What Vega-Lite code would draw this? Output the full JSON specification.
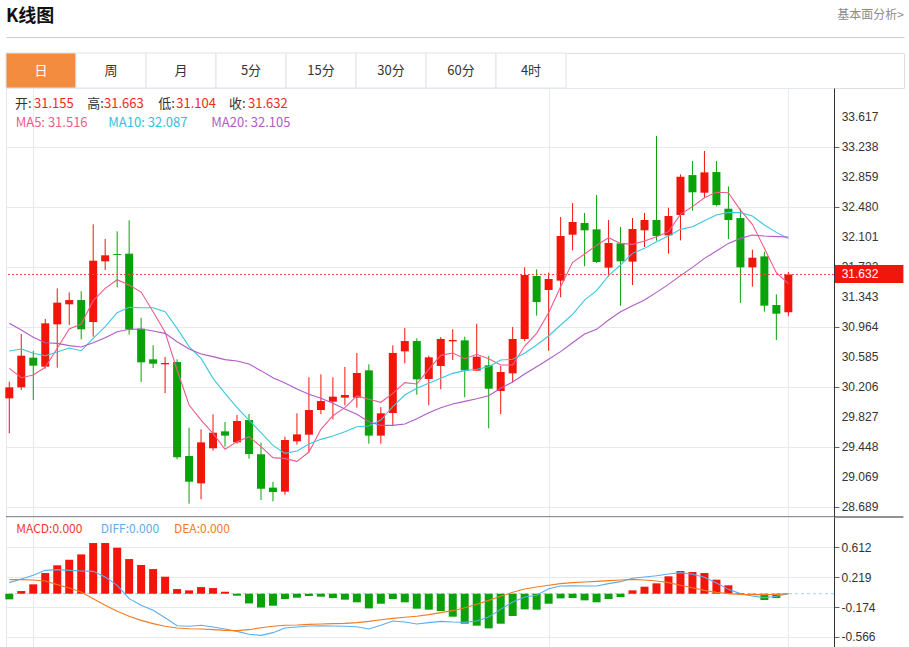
{
"$schema": "https://vega.github.io/schema/vega-lite/v6.json",
"padding": {"left": 4, "top": 0, "right": 2, "bottom": 0},
"autosize": {"type": "pad"},
"config": {"view": {"stroke": null}, "font": "Liberation Sans", "axis": {"labelFont": "Liberation Sans"}},
"datasets": {
"k": [
{"i":0,"o":30.067,"h":30.278,"l":29.625,"c":30.206,"m5":30.446,"m10":30.665,"m20":31.015,"macd":-0.074,"diff":0.145,"dea":0.184},
{"i":1,"o":30.206,"h":30.880,"l":30.172,"c":30.606,"m5":30.328,"m10":30.690,"m20":30.930,"macd":0.035,"diff":0.193,"dea":0.184},
{"i":2,"o":30.581,"h":30.665,"l":30.046,"c":30.480,"m5":30.362,"m10":30.636,"m20":30.838,"macd":0.123,"diff":0.241,"dea":0.180},
{"i":3,"o":30.467,"h":31.069,"l":30.442,"c":31.015,"m5":30.459,"m10":30.606,"m20":30.770,"macd":0.271,"diff":0.306,"dea":0.167},
{"i":4,"o":31.002,"h":31.457,"l":30.455,"c":31.276,"m5":30.699,"m10":30.652,"m20":30.762,"macd":0.372,"diff":0.315,"dea":0.119},
{"i":5,"o":31.255,"h":31.406,"l":30.994,"c":31.309,"m5":30.943,"m10":30.703,"m20":30.733,"macd":0.445,"diff":0.306,"dea":0.075},
{"i":6,"o":31.309,"h":31.419,"l":30.812,"c":30.939,"m5":31.006,"m10":30.669,"m20":30.716,"macd":0.515,"diff":0.298,"dea":0.022},
{"i":7,"o":31.031,"h":32.265,"l":30.846,"c":31.806,"m5":31.301,"m10":30.825,"m20":30.770,"macd":0.664,"diff":0.293,"dea":-0.065},
{"i":8,"o":31.798,"h":32.080,"l":31.688,"c":31.874,"m5":31.457,"m10":30.972,"m20":30.834,"macd":0.664,"diff":0.219,"dea":-0.152},
{"i":9,"o":31.890,"h":32.177,"l":31.469,"c":31.878,"m5":31.566,"m10":31.149,"m20":30.909,"macd":0.603,"diff":0.110,"dea":-0.231},
{"i":10,"o":31.895,"h":32.316,"l":30.871,"c":30.939,"m5":31.499,"m10":31.217,"m20":30.939,"macd":0.454,"diff":-0.065,"dea":-0.296},
{"i":11,"o":30.947,"h":31.086,"l":30.274,"c":30.522,"m5":31.410,"m10":31.212,"m20":30.943,"macd":0.376,"diff":-0.152,"dea":-0.349},
{"i":12,"o":30.560,"h":30.737,"l":30.450,"c":30.505,"m5":31.162,"m10":31.212,"m20":30.918,"macd":0.323,"diff":-0.218,"dea":-0.392},
{"i":13,"o":30.497,"h":30.589,"l":30.134,"c":30.514,"m5":30.901,"m10":31.162,"m20":30.888,"macd":0.223,"diff":-0.314,"dea":-0.427},
{"i":14,"o":30.526,"h":30.560,"l":29.297,"c":29.322,"m5":30.425,"m10":30.951,"m20":30.783,"macd":0.061,"diff":-0.419,"dea":-0.449},
{"i":15,"o":29.339,"h":29.697,"l":28.737,"c":29.014,"m5":29.983,"m10":30.720,"m20":30.690,"macd":0.044,"diff":-0.427,"dea":-0.458},
{"i":16,"o":28.993,"h":29.676,"l":28.791,"c":29.511,"m5":29.793,"m10":30.572,"m20":30.627,"macd":0.087,"diff":-0.414,"dea":-0.462},
{"i":17,"o":29.436,"h":29.865,"l":29.406,"c":29.633,"m5":29.625,"m10":30.320,"m20":30.594,"macd":0.074,"diff":-0.436,"dea":-0.471},
{"i":18,"o":29.650,"h":29.768,"l":29.457,"c":29.596,"m5":29.423,"m10":30.130,"m20":30.556,"macd":0.026,"diff":-0.462,"dea":-0.480},
{"i":19,"o":29.511,"h":29.857,"l":29.494,"c":29.781,"m5":29.520,"m10":29.949,"m20":30.539,"macd":-0.026,"diff":-0.493,"dea":-0.484},
{"i":20,"o":29.793,"h":29.869,"l":29.305,"c":29.364,"m5":29.583,"m10":29.793,"m20":30.501,"macd":-0.127,"diff":-0.532,"dea":-0.471},
{"i":21,"o":29.360,"h":29.507,"l":28.783,"c":28.926,"m5":29.457,"m10":29.633,"m20":30.417,"macd":-0.179,"diff":-0.545,"dea":-0.445},
{"i":22,"o":28.939,"h":29.014,"l":28.766,"c":28.884,"m5":29.318,"m10":29.473,"m20":30.328,"macd":-0.157,"diff":-0.510,"dea":-0.427},
{"i":23,"o":28.888,"h":29.583,"l":28.850,"c":29.541,"m5":29.305,"m10":29.372,"m20":30.261,"macd":-0.070,"diff":-0.449,"dea":-0.414},
{"i":24,"o":29.524,"h":29.878,"l":29.482,"c":29.612,"m5":29.271,"m10":29.402,"m20":30.185,"macd":-0.052,"diff":-0.436,"dea":-0.410},
{"i":25,"o":29.608,"h":30.332,"l":29.389,"c":29.920,"m5":29.389,"m10":29.490,"m20":30.118,"macd":-0.030,"diff":-0.423,"dea":-0.401},
{"i":26,"o":29.920,"h":30.370,"l":29.865,"c":30.033,"m5":29.676,"m10":29.549,"m20":30.067,"macd":-0.039,"diff":-0.419,"dea":-0.397},
{"i":27,"o":30.025,"h":30.332,"l":29.802,"c":30.088,"m5":29.848,"m10":29.591,"m20":30.004,"macd":-0.057,"diff":-0.423,"dea":-0.392},
{"i":28,"o":30.076,"h":30.463,"l":29.979,"c":30.109,"m5":29.949,"m10":29.646,"m20":29.932,"macd":-0.078,"diff":-0.427,"dea":-0.388},
{"i":29,"o":30.076,"h":30.640,"l":29.949,"c":30.387,"m5":30.097,"m10":29.709,"m20":29.865,"macd":-0.113,"diff":-0.432,"dea":-0.379},
{"i":30,"o":30.421,"h":30.497,"l":29.494,"c":29.596,"m5":30.055,"m10":29.718,"m20":29.772,"macd":-0.192,"diff":-0.462,"dea":-0.362},
{"i":31,"o":29.596,"h":29.958,"l":29.494,"c":29.878,"m5":30.017,"m10":29.793,"m20":29.726,"macd":-0.131,"diff":-0.414,"dea":-0.340},
{"i":32,"o":29.882,"h":30.737,"l":29.722,"c":30.640,"m5":30.130,"m10":29.962,"m20":29.726,"macd":-0.070,"diff":-0.357,"dea":-0.323},
{"i":33,"o":30.661,"h":30.956,"l":30.509,"c":30.791,"m5":30.265,"m10":30.109,"m20":29.743,"macd":-0.113,"diff":-0.371,"dea":-0.309},
{"i":34,"o":30.791,"h":30.825,"l":30.113,"c":30.307,"m5":30.248,"m10":30.194,"m20":29.810,"macd":-0.196,"diff":-0.397,"dea":-0.296},
{"i":35,"o":30.311,"h":30.606,"l":29.979,"c":30.585,"m5":30.434,"m10":30.257,"m20":29.886,"macd":-0.209,"diff":-0.379,"dea":-0.274},
{"i":36,"o":30.476,"h":30.842,"l":30.181,"c":30.817,"m5":30.610,"m10":30.320,"m20":29.949,"macd":-0.227,"diff":-0.362,"dea":-0.248},
{"i":37,"o":30.787,"h":30.939,"l":30.551,"c":30.804,"m5":30.640,"m10":30.383,"m20":29.996,"macd":-0.301,"diff":-0.371,"dea":-0.222},
{"i":38,"o":30.800,"h":30.846,"l":30.080,"c":30.421,"m5":30.568,"m10":30.417,"m20":30.029,"macd":-0.393,"diff":-0.375,"dea":-0.183},
{"i":39,"o":30.417,"h":31.010,"l":30.417,"c":30.594,"m5":30.623,"m10":30.434,"m20":30.063,"macd":-0.419,"diff":-0.357,"dea":-0.139},
{"i":40,"o":30.484,"h":30.602,"l":29.688,"c":30.189,"m5":30.568,"m10":30.467,"m20":30.101,"macd":-0.454,"diff":-0.305,"dea":-0.087},
{"i":41,"o":30.160,"h":30.476,"l":29.869,"c":30.400,"m5":30.488,"m10":30.551,"m20":30.194,"macd":-0.393,"diff":-0.205,"dea":-0.034},
{"i":42,"o":30.383,"h":30.968,"l":30.269,"c":30.817,"m5":30.488,"m10":30.560,"m20":30.274,"macd":-0.292,"diff":-0.109,"dea":0.018},
{"i":43,"o":30.817,"h":31.722,"l":30.791,"c":31.625,"m5":30.728,"m10":30.636,"m20":30.375,"macd":-0.205,"diff":-0.043,"dea":0.062},
{"i":44,"o":31.613,"h":31.697,"l":31.112,"c":31.284,"m5":30.888,"m10":30.741,"m20":30.467,"macd":-0.209,"diff":-0.021,"dea":0.088},
{"i":45,"o":31.436,"h":31.655,"l":30.669,"c":31.575,"m5":31.149,"m10":30.855,"m20":30.560,"macd":-0.131,"diff":0.066,"dea":0.110},
{"i":46,"o":31.554,"h":32.358,"l":31.343,"c":32.118,"m5":31.478,"m10":30.994,"m20":30.657,"macd":-0.061,"diff":0.101,"dea":0.132},
{"i":47,"o":32.135,"h":32.535,"l":31.937,"c":32.295,"m5":31.785,"m10":31.128,"m20":30.770,"macd":-0.057,"diff":0.105,"dea":0.145},
{"i":48,"o":32.282,"h":32.409,"l":31.735,"c":32.190,"m5":31.890,"m10":31.309,"m20":30.880,"macd":-0.087,"diff":0.101,"dea":0.154},
{"i":49,"o":32.202,"h":32.636,"l":31.777,"c":31.789,"m5":32.000,"m10":31.427,"m20":30.939,"macd":-0.113,"diff":0.101,"dea":0.162},
{"i":50,"o":31.718,"h":32.320,"l":31.604,"c":32.030,"m5":32.097,"m10":31.617,"m20":31.057,"macd":-0.070,"diff":0.132,"dea":0.171},
{"i":51,"o":32.025,"h":32.232,"l":31.238,"c":31.798,"m5":32.025,"m10":31.752,"m20":31.162,"macd":-0.044,"diff":0.158,"dea":0.180},
{"i":52,"o":31.794,"h":32.345,"l":31.499,"c":32.206,"m5":32.013,"m10":31.899,"m20":31.238,"macd":0.044,"diff":0.202,"dea":0.188},
{"i":53,"o":32.190,"h":32.409,"l":31.979,"c":32.320,"m5":32.055,"m10":31.962,"m20":31.309,"macd":0.092,"diff":0.219,"dea":0.180},
{"i":54,"o":32.320,"h":33.381,"l":32.059,"c":32.118,"m5":32.110,"m10":32.046,"m20":31.406,"macd":0.136,"diff":0.236,"dea":0.167},
{"i":55,"o":32.126,"h":32.476,"l":31.895,"c":32.371,"m5":32.173,"m10":32.118,"m20":31.507,"macd":0.228,"diff":0.258,"dea":0.145},
{"i":56,"o":32.383,"h":32.897,"l":32.063,"c":32.867,"m5":32.392,"m10":32.202,"m20":31.617,"macd":0.297,"diff":0.276,"dea":0.110},
{"i":57,"o":32.888,"h":33.065,"l":32.438,"c":32.670,"m5":32.489,"m10":32.236,"m20":31.722,"macd":0.284,"diff":0.254,"dea":0.079},
{"i":58,"o":32.665,"h":33.192,"l":32.602,"c":32.922,"m5":32.602,"m10":32.312,"m20":31.836,"macd":0.271,"diff":0.215,"dea":0.044},
{"i":59,"o":32.926,"h":33.065,"l":32.493,"c":32.510,"m5":32.670,"m10":32.383,"m20":31.928,"macd":0.184,"diff":0.140,"dea":0.018},
{"i":60,"o":32.463,"h":32.745,"l":32.080,"c":32.320,"m5":32.665,"m10":32.417,"m20":32.025,"macd":0.110,"diff":0.057,"dea":0.001},
{"i":61,"o":32.345,"h":32.463,"l":31.272,"c":31.722,"m5":32.446,"m10":32.413,"m20":32.088,"macd":0.009,"diff":0.001,"dea":-0.008},
{"i":62,"o":31.722,"h":31.945,"l":31.478,"c":31.844,"m5":32.265,"m10":32.371,"m20":32.130,"macd":-0.017,"diff":-0.030,"dea":-0.012},
{"i":63,"o":31.861,"h":31.920,"l":31.162,"c":31.238,"m5":31.962,"m10":32.257,"m20":32.118,"macd":-0.083,"diff":-0.052,"dea":-0.012},
{"i":64,"o":31.246,"h":31.381,"l":30.804,"c":31.137,"m5":31.655,"m10":32.164,"m20":32.110,"macd":-0.057,"diff":-0.034,"dea":-0.008},
{"i":65,"o":31.155,"h":31.663,"l":31.104,"c":31.632,"m5":31.516,"m10":32.087,"m20":32.105,"macd":0.0,"diff":0.001,"dea":0.001}
],
"tabs": [{"tab":"日"},{"tab":"周"},{"tab":"月"},{"tab":"5分"},{"tab":"15分"},{"tab":"30分"},{"tab":"60分"},{"tab":"4时"}],
"yticks": [{"v":28.689},{"v":29.069},{"v":29.448},{"v":29.827},{"v":30.206},{"v":30.585},{"v":30.964},{"v":31.343},{"v":31.722},{"v":32.101},{"v":32.480},{"v":32.859},{"v":33.238},{"v":33.617}],
"one": [{}]
},
"spacing": 0,
"bounds": "flush",
"resolve": {"scale": {"x": "independent", "y": "independent"}},
"vconcat": [
{
"width": 898, "height": 53,
"data": {"name": "one"},
"layer": [
{"mark": {"type": "text", "text": "K线图", "align": "left", "baseline": "middle", "dy": -10, "font": "Noto Sans CJK SC", "fontSize": 18, "fontWeight": "bold", "color": "#111"},
 "encoding": {"x": {"datum": 0, "type": "quantitative", "scale": {"domain": [0, 1]}, "title": null,
   "axis": {"labels": false, "ticks": false, "grid": false, "domain": true, "domainColor": "#cfcfcf", "domainWidth": 1, "offset": -16}}}},
{"mark": {"type": "text", "text": "基本面分析>", "align": "right", "baseline": "middle", "dy": -11.5, "font": "Noto Sans CJK SC", "fontSize": 12, "color": "#8c8c8c"},
 "encoding": {"x": {"datum": 1, "type": "quantitative"}}}
]
},
{
"width": 898, "height": 35,
"data": {"name": "tabs"},
"view": {"stroke": "#dedede"},
"layer": [
{"mark": {"type": "rect", "stroke": "#e2e2e2", "strokeWidth": 1},
 "encoding": {"x": {"field": "tab", "type": "nominal", "sort": null, "axis": null,
   "scale": {"domain": ["日","周","月","5分","15分","30分","60分","4时"], "range": [0, 560], "paddingInner": 0, "paddingOuter": 0}},
  "fill": {"condition": {"test": "datum.tab === '日'", "value": "#F48C40"}, "value": "#ffffff"}}},
{"mark": {"type": "text", "baseline": "middle", "font": "Noto Sans CJK SC", "fontSize": 13},
 "encoding": {"x": {"field": "tab", "type": "nominal", "sort": null, "axis": null},
  "text": {"field": "tab"},
  "color": {"condition": {"test": "datum.tab === '日'", "value": "#ffffff"}, "value": "#333333"}}}
]
},
{
"width": 828, "height": 429,
"view": {"stroke": "#e3e8ee"},
"data": {"name": "k"},
"layer": [
{"mark": {"type": "rule", "strokeWidth": 1},
 "encoding": {
  "x": {"field": "i", "type": "quantitative", "title": null, "scale": {"domain": [-0.275, 68.81], "nice": false, "zero": false, "padding": 0},
   "axis": {"values": [2, 45, 65], "labels": false, "ticks": false, "domain": false, "grid": true, "gridColor": "#e5eaf0"}},
  "y": {"field": "l", "type": "quantitative", "title": null, "scale": {"domain": [28.568, 33.988], "nice": false, "zero": false, "padding": 0},
   "axis": {"orient": "right", "values": [28.689, 29.069, 29.448, 29.827, 30.206, 30.585, 30.964, 31.343, 31.722, 32.101, 32.48, 32.859, 33.238, 33.617],
    "labels": false, "grid": true, "gridColor": "#e5eaf0", "domainColor": "#333333", "tickColor": "#666666", "tickSize": 5}},
  "y2": {"field": "h"},
  "color": {"condition": {"test": "datum.c >= datum.o", "value": "#F2150C"}, "value": "#0AA10A"}}},
{"mark": {"type": "bar", "size": 8},
 "encoding": {
  "x": {"field": "i", "type": "quantitative", "title": null},
  "y": {"field": "o", "type": "quantitative", "title": null},
  "y2": {"field": "c"},
  "color": {"condition": {"test": "datum.c >= datum.o", "value": "#F2150C"}, "value": "#0AA10A"}}},
{"mark": {"type": "line", "strokeWidth": 1.1, "color": "#EE5C8D"},
 "encoding": {"x": {"field": "i", "type": "quantitative", "title": null}, "y": {"field": "m5", "type": "quantitative", "title": null}}},
{"mark": {"type": "line", "strokeWidth": 1.1, "color": "#3CC6E0"},
 "encoding": {"x": {"field": "i", "type": "quantitative", "title": null}, "y": {"field": "m10", "type": "quantitative", "title": null}}},
{"mark": {"type": "line", "strokeWidth": 1.1, "color": "#B15BC8"},
 "encoding": {"x": {"field": "i", "type": "quantitative", "title": null}, "y": {"field": "m20", "type": "quantitative", "title": null}}},
{"data": {"name": "yticks"},
 "mark": {"type": "text", "align": "left", "baseline": "middle", "fontSize": 12, "color": "#333333"},
 "encoding": {"x": {"datum": 69.45, "type": "quantitative"}, "y": {"field": "v", "type": "quantitative", "title": null},
  "text": {"field": "v", "type": "quantitative", "format": ".3f"}}},
{"data": {"name": "one"},
 "mark": {"type": "rule", "color": "#F34A40", "strokeDash": [2, 2], "strokeWidth": 1},
 "encoding": {"y": {"datum": 31.632, "type": "quantitative"}}},
{"data": {"name": "one"},
 "mark": {"type": "rect", "color": "#F2150C"},
 "encoding": {"x": {"datum": 68.895, "type": "quantitative"}, "x2": {"datum": 74.6}, "y": {"datum": 31.752, "type": "quantitative"}, "y2": {"datum": 31.524}}},
{"data": {"name": "one"},
 "mark": {"type": "text", "text": "31.632", "align": "left", "baseline": "middle", "fontSize": 12, "color": "#ffffff"},
 "encoding": {"x": {"datum": 69.45, "type": "quantitative"}, "y": {"datum": 31.638, "type": "quantitative"}}},
{"data": {"name": "one"},
 "mark": {"type": "rule", "color": "#222222", "strokeWidth": 1},
 "encoding": {"x": {"datum": -0.275, "type": "quantitative"}, "x2": {"datum": 74.6}, "y": {"datum": 28.568, "type": "quantitative"}}},
{"data": {"name": "one"}, "mark": {"type": "text", "text": "开:", "align": "left", "baseline": "middle", "font": "Noto Sans CJK SC", "fontSize": 13, "color": "#333333"},
 "encoding": {"x": {"datum": 0.476, "type": "quantitative"}, "y": {"datum": 33.786, "type": "quantitative"}}},
{"data": {"name": "one"}, "mark": {"type": "text", "text": "31.155", "align": "left", "baseline": "middle", "font": "Noto Sans CJK SC", "fontSize": 13, "color": "#F0281A"},
 "encoding": {"x": {"datum": 2.061, "type": "quantitative"}, "y": {"datum": 33.786, "type": "quantitative"}}},
{"data": {"name": "one"}, "mark": {"type": "text", "text": "高:", "align": "left", "baseline": "middle", "font": "Noto Sans CJK SC", "fontSize": 13, "color": "#333333"},
 "encoding": {"x": {"datum": 6.508, "type": "quantitative"}, "y": {"datum": 33.786, "type": "quantitative"}}},
{"data": {"name": "one"}, "mark": {"type": "text", "text": "31.663", "align": "left", "baseline": "middle", "font": "Noto Sans CJK SC", "fontSize": 13, "color": "#F0281A"},
 "encoding": {"x": {"datum": 7.902, "type": "quantitative"}, "y": {"datum": 33.786, "type": "quantitative"}}},
{"data": {"name": "one"}, "mark": {"type": "text", "text": "低:", "align": "left", "baseline": "middle", "font": "Noto Sans CJK SC", "fontSize": 13, "color": "#333333"},
 "encoding": {"x": {"datum": 12.433, "type": "quantitative"}, "y": {"datum": 33.786, "type": "quantitative"}}},
{"data": {"name": "one"}, "mark": {"type": "text", "text": "31.104", "align": "left", "baseline": "middle", "font": "Noto Sans CJK SC", "fontSize": 13, "color": "#F0281A"},
 "encoding": {"x": {"datum": 13.935, "type": "quantitative"}, "y": {"datum": 33.786, "type": "quantitative"}}},
{"data": {"name": "one"}, "mark": {"type": "text", "text": "收:", "align": "left", "baseline": "middle", "font": "Noto Sans CJK SC", "fontSize": 13, "color": "#333333"},
 "encoding": {"x": {"datum": 18.332, "type": "quantitative"}, "y": {"datum": 33.786, "type": "quantitative"}}},
{"data": {"name": "one"}, "mark": {"type": "text", "text": "31.632", "align": "left", "baseline": "middle", "font": "Noto Sans CJK SC", "fontSize": 13, "color": "#F0281A"},
 "encoding": {"x": {"datum": 19.917, "type": "quantitative"}, "y": {"datum": 33.786, "type": "quantitative"}}},
{"data": {"name": "one"}, "mark": {"type": "text", "text": "MA5: 31.516", "align": "left", "baseline": "middle", "font": "Noto Sans CJK SC", "fontSize": 13, "color": "#EE5C8D"},
 "encoding": {"x": {"datum": 0.534, "type": "quantitative"}, "y": {"datum": 33.545, "type": "quantitative"}}},
{"data": {"name": "one"}, "mark": {"type": "text", "text": "MA10: 32.087", "align": "left", "baseline": "middle", "font": "Noto Sans CJK SC", "fontSize": 13, "color": "#2EC3DE"},
 "encoding": {"x": {"datum": 8.261, "type": "quantitative"}, "y": {"datum": 33.545, "type": "quantitative"}}},
{"data": {"name": "one"}, "mark": {"type": "text", "text": "MA20: 32.105", "align": "left", "baseline": "middle", "font": "Noto Sans CJK SC", "fontSize": 13, "color": "#B15BC8"},
 "encoding": {"x": {"datum": 16.855, "type": "quantitative"}, "y": {"datum": 33.545, "type": "quantitative"}}}
]
},
{
"width": 828, "height": 130,
"view": {"stroke": "#e3e8ee"},
"data": {"name": "k"},
"layer": [
{"data": {"name": "one"},
 "mark": {"type": "rule", "color": "#9ED3F2", "strokeDash": [3, 3], "strokeWidth": 1},
 "encoding": {"y": {"datum": 0, "type": "quantitative", "title": null, "scale": {"domain": [-0.698, 1.005], "nice": false, "zero": false, "padding": 0},
   "axis": {"orient": "right", "values": [0.612, 0.219, -0.174, -0.566], "labelExpr": "replace(format(datum.value, '.3f'), '\u2212', '-')",
    "labelOverlap": false, "grid": true, "gridColor": "#e5eaf0", "domainColor": "#333333", "tickColor": "#666666", "tickSize": 5, "labelPadding": 2,
    "labelFontSize": 12, "labelColor": "#333333"}}}},
{"mark": {"type": "bar", "size": 8},
 "encoding": {
  "x": {"field": "i", "type": "quantitative", "title": null, "scale": {"domain": [-0.275, 68.81], "nice": false, "zero": false, "padding": 0},
   "axis": {"values": [2, 45, 65], "labels": false, "ticks": false, "domain": false, "grid": true, "gridColor": "#e5eaf0"}},
  "y": {"field": "macd", "type": "quantitative", "title": null},
  "y2": {"datum": 0},
  "color": {"condition": {"test": "datum.macd >= 0", "value": "#F2150C"}, "value": "#0AA10A"}}},
{"mark": {"type": "line", "strokeWidth": 1.1, "color": "#5BAEF0"},
 "encoding": {"x": {"field": "i", "type": "quantitative", "title": null}, "y": {"field": "diff", "type": "quantitative", "title": null}}},
{"mark": {"type": "line", "strokeWidth": 1.1, "color": "#F47B20"},
 "encoding": {"x": {"field": "i", "type": "quantitative", "title": null}, "y": {"field": "dea", "type": "quantitative", "title": null}}},
{"data": {"name": "one"}, "mark": {"type": "text", "text": "MACD:0.000", "align": "left", "baseline": "middle", "font": "Noto Sans CJK SC", "fontSize": 12, "color": "#F0392B"},
 "encoding": {"x": {"datum": 0.584, "type": "quantitative"}, "y": {"datum": 0.851, "type": "quantitative"}}},
{"data": {"name": "one"}, "mark": {"type": "text", "text": "DIFF:0.000", "align": "left", "baseline": "middle", "font": "Noto Sans CJK SC", "fontSize": 12, "color": "#5BAEF0"},
 "encoding": {"x": {"datum": 7.627, "type": "quantitative"}, "y": {"datum": 0.851, "type": "quantitative"}}},
{"data": {"name": "one"}, "mark": {"type": "text", "text": "DEA:0.000", "align": "left", "baseline": "middle", "font": "Noto Sans CJK SC", "fontSize": 12, "color": "#F47B20"},
 "encoding": {"x": {"datum": 13.743, "type": "quantitative"}, "y": {"datum": 0.851, "type": "quantitative"}}}
]
}
]
}
